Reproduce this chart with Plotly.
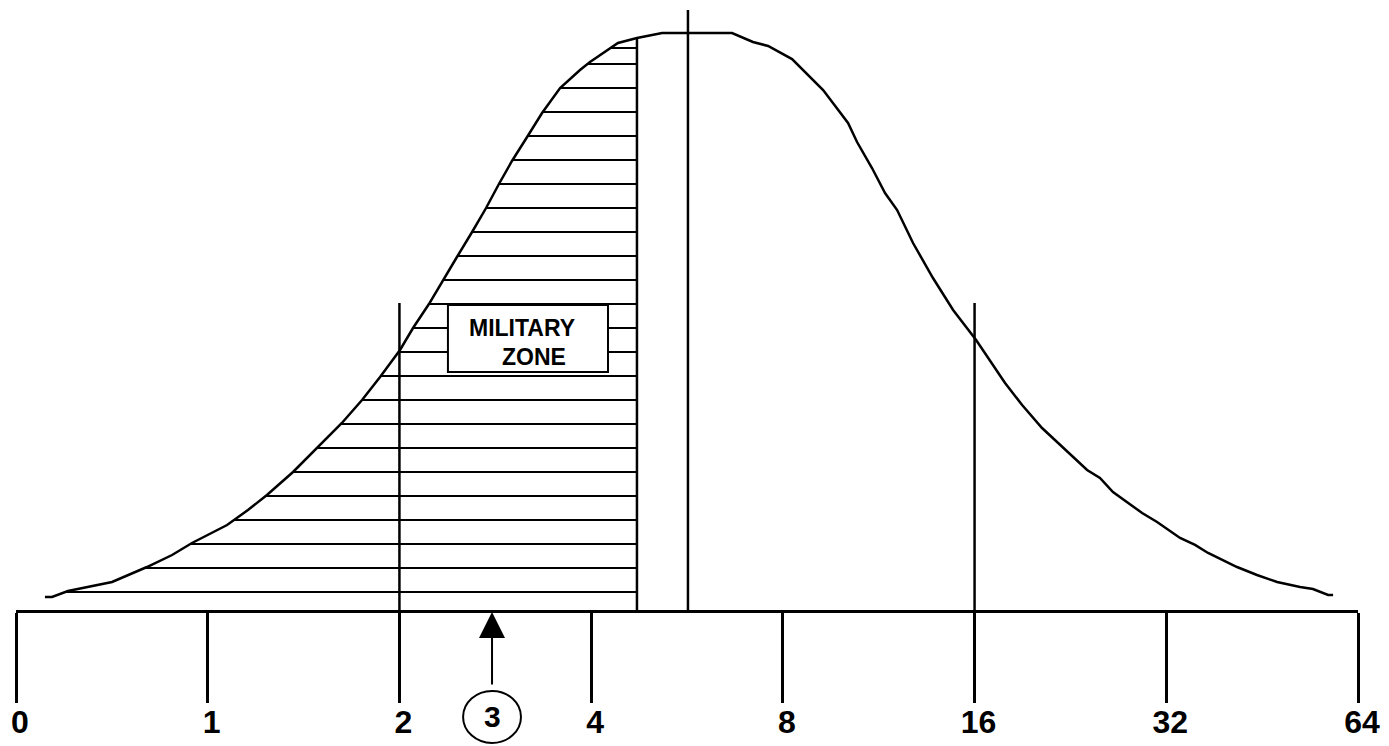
import numpy as np
import plotly.graph_objects as go

# Doubling scale drawn with equal spacing
tick_pos = [0, 1, 2, 3, 4, 5, 6, 7]
tick_text = ["0", "1", "2", "4", "8", "16", "32", "64"]

# Distribution curve: position on the doubling scale, relative height (peak = 100)
curve_x = [0.151, 0.188, 0.271, 0.501, 0.683, 0.814, 0.918, 1.101, 1.210, 1.309,
           1.445, 1.575, 1.700, 1.805, 1.899, 2.003, 2.071, 2.154, 2.227, 2.300,
           2.379, 2.452, 2.519, 2.587, 2.666, 2.744, 2.838, 2.942, 2.994, 3.140,
           3.239, 3.370, 3.735, 3.844, 3.923, 4.048, 4.210, 4.340, 4.387, 4.465,
           4.533, 4.596, 4.679, 4.783, 4.888, 5.008, 5.159, 5.248, 5.352, 5.461,
           5.587, 5.654, 5.722, 5.874, 5.952, 6.072, 6.150, 6.218, 6.369, 6.473,
           6.578, 6.698, 6.765, 6.844, 6.870]
curve_y = [2.25, 2.25, 3.29, 4.85, 7.45, 9.53, 11.61, 14.73, 17.33, 19.93,
           23.92, 28.25, 32.41, 36.40, 40.38, 45.06, 48.87, 53.03, 57.19, 61.18,
           65.51, 69.67, 73.83, 77.82, 81.98, 86.14, 90.47, 93.59, 94.97, 98.27,
           99.13, 100.0, 100.0, 98.44, 97.75, 95.49, 90.12, 84.40, 81.11, 76.60,
           72.27, 69.32, 63.60, 57.54, 51.99, 46.79, 39.34, 35.53, 31.54, 28.08,
           24.26, 22.88, 20.45, 16.81, 15.25, 12.48, 11.27, 9.88, 7.45, 6.07,
           4.85, 3.99, 3.64, 2.60, 2.60]

zone_edge = 3.239          # right edge of the hatched military zone
mode_pos, mode_top = 3.505, 104.0   # vertical line through the peak
ref_lines, ref_top = [2, 5], 53.2   # reference lines at 2 and 16
marker_pos, marker_label = 2.483, "3"
zone_label = ["MILITARY", "ZONE"]

FONT = "Liberation Sans, Arial, sans-serif"
INK = "black"

fig = go.Figure()

# horizontal hatching from the rising flank to the zone edge
peak_i = int(np.argmax(curve_y))
rise_x = np.array(curve_x[:peak_i + 1])
rise_y = np.array(curve_y[:peak_i + 1])
levels = list(np.arange(3.12, 95.0, 4.16)) + [97.4]
hx, hy = [], []
for lv in levels:
    hx += [float(np.interp(lv, rise_y, rise_x)), zone_edge, None]
    hy += [lv, lv, None]
fig.add_trace(go.Scatter(x=hx, y=hy, mode="lines",
                         line=dict(color=INK, width=2), hoverinfo="skip"))

# the distribution curve
fig.add_trace(go.Scatter(x=curve_x, y=curve_y, mode="lines",
                         line=dict(color=INK, width=2.5), hoverinfo="skip"))

# vertical lines
zone_top = float(np.interp(zone_edge, rise_x, rise_y))
fig.add_shape(type="line", x0=zone_edge, x1=zone_edge, y0=0, y1=zone_top,
              line=dict(color=INK, width=2.5))
fig.add_shape(type="line", x0=mode_pos, x1=mode_pos, y0=0, y1=mode_top,
              line=dict(color=INK, width=2.5))
for rx in ref_lines:
    fig.add_shape(type="line", x0=rx, x1=rx, y0=0, y1=ref_top,
                  line=dict(color=INK, width=2.5))

# label box inside the zone
fig.add_shape(type="rect", x0=2.253, x1=3.088, y0=41.25, y1=52.86,
              fillcolor="white", line=dict(color=INK, width=2), layer="above")
fig.add_annotation(x=2.64, y=48.9, text=zone_label[0], showarrow=False,
                   font=dict(family=FONT, size=23, color=INK, weight="bold"))
fig.add_annotation(x=2.70, y=43.9, text=zone_label[1], showarrow=False,
                   font=dict(family=FONT, size=23, color=INK, weight="bold"))

# circled marker with arrow pointing at the scale
fig.add_annotation(x=marker_pos, y=0, ax=0, ay=76, text="", showarrow=True,
                   arrowhead=2, arrowsize=2.6, arrowwidth=2, arrowcolor=INK,
                   standoff=2)
fig.add_shape(type="circle", xref="x", yref="paper",
              x0=marker_pos - 0.151, x1=marker_pos + 0.151,
              y0=-0.218, y1=-0.1328, line=dict(color=INK, width=2))
fig.add_annotation(x=marker_pos, y=-0.175, xref="x", yref="paper",
                   xanchor="center", yanchor="middle",
                   text=marker_label, showarrow=False,
                   font=dict(family=FONT, size=30, color=INK, weight="bold"))

fig.update_layout(
    width=1389, height=746,
    margin=dict(l=16, r=31, t=0, b=136, autoexpand=False),
    paper_bgcolor="white", plot_bgcolor="white",
    showlegend=False,
    xaxis=dict(range=[0, 7], tickvals=tick_pos, ticktext=tick_text,
               showgrid=False, zeroline=False, automargin=False,
               showline=True, linecolor=INK, linewidth=2.5,
               ticks="outside", ticklen=90, tickwidth=2.5, tickcolor=INK,
               ticklabelshift=4, ticklabelstandoff=-8,
               tickfont=dict(family=FONT, size=32, color=INK, weight="bold"),
               fixedrange=True),
    yaxis=dict(range=[0, 105.72], visible=False, fixedrange=True),
)

fig.write_html("out.html")
